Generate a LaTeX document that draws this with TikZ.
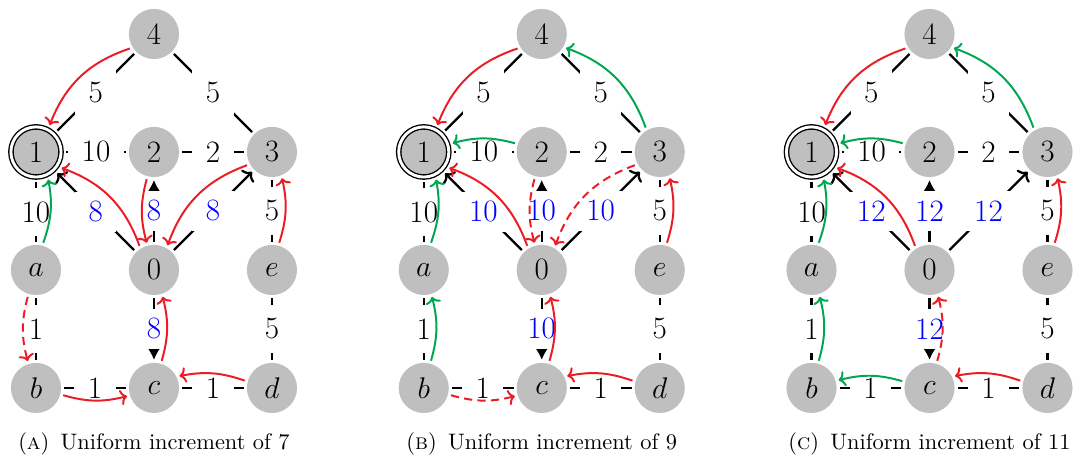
\documentclass[tikz,border=0pt]{standalone}
\usetikzlibrary{arrows.meta}
\definecolor{myred}{RGB}{237,28,36}
\definecolor{mygreen}{RGB}{0,166,81}
\tikzset{
  vtx/.style={circle, fill=gray!50, minimum size=0.85cm, inner sep=0pt, outer sep=1.5pt,
    font=\fontsize{15}{18}\selectfont},
  root/.style={vtx, draw=black, line width=0.65pt, double=white, double distance=1.4pt, outer sep=2.5pt},
  edg/.style={line width=1.1pt, black},
  earr/.style={edg, -{To[length=3.5pt,width=8.5pt]}},
  varr/.style={edg, -{Latex[length=7pt,width=8.5pt]}},
  lbl/.style={fill=white, inner sep=6.5pt, font=\fontsize{15}{18}\selectfont},
  blbl/.style={lbl, text=blue, inner ysep=4.5pt},
  carr/.style={line width=0.95pt, -{To[length=3.2pt,width=7.5pt]}},
  rarr/.style={carr, myred},
  garr/.style={carr, mygreen},
  dsh/.style={dash pattern=on 4pt off 2.5pt},
  captxt/.style={font=\fontsize{10.8}{12}\selectfont},
}
\newcommand\mypanel[4]{%
  \begin{scope}[xshift=#2cm]
    \node[vtx] (#1n4) at (2,6) {4};
    \node[root] (#1n1) at (0,4) {1};
    \node[vtx] (#1n2) at (2,4) {2};
    \node[vtx] (#1n3) at (4,4) {3};
    \node[vtx] (#1a) at (0,2) {$a$};
    \node[vtx] (#1n0) at (2,2) {0};
    \node[vtx] (#1e) at (4,2) {$e$};
    \node[vtx] (#1b) at (0,0) {$b$};
    \node[vtx] (#1c) at (2,0) {$c$};
    \node[vtx] (#1d) at (4,0) {$d$};
    \draw[edg] (#1n4) -- node[lbl]{5} (#1n1);
    \draw[edg] (#1n4) -- node[lbl]{5} (#1n3);
    \draw[edg] (#1n1) -- node[lbl]{10} (#1n2);
    \draw[edg] (#1n2) -- node[lbl]{2} (#1n3);
    \draw[edg] (#1n1) -- node[lbl]{10} (#1a);
    \draw[edg] (#1n3) -- node[lbl]{5} (#1e);
    \draw[edg] (#1a) -- node[lbl]{1} (#1b);
    \draw[edg] (#1e) -- node[lbl]{5} (#1d);
    \draw[edg] (#1b) -- node[lbl]{1} (#1c);
    \draw[edg] (#1c) -- node[lbl]{1} (#1d);
    \draw[earr] (#1n0) -- node[blbl]{#3} (#1n1);
    \draw[varr] (#1n0) -- node[blbl]{#3} (#1n2);
    \draw[earr] (#1n0) -- node[blbl]{#3} (#1n3);
    \draw[varr] (#1n0) -- node[blbl]{#3} (#1c);
    \node[captxt] (#1cap) at (2,-0.95) {#4};
  \end{scope}}
\begin{document}
\begin{tikzpicture}
\useasboundingbox (-0.61,-1.22) rectangle (17.68,6.576);
\mypanel{A}{0}{8}{(\textsc{a})\hspace{0.5em}Uniform increment of 7}
\mypanel{B}{6.573}{10}{(\textsc{b})\hspace{0.5em}Uniform increment of 9}
\mypanel{C}{13.146}{12}{(\textsc{c})\hspace{0.5em}Uniform increment of 11}
% panel A
\draw[rarr] (An4.211) to[bend right=25] (An1.63);
\draw[garr] (Aa.75) to[bend right=15] (An1.294);
\draw[rarr] (An0.121) to[bend right=25] (An1.328);
\draw[rarr] (An2.255) to[bend right=15] (An0.105);
\draw[rarr] (An3.208) to[bend right=25] (An0.61);
\draw[rarr] (Ae.75) to[bend right=15] (An3.291);
\draw[rarr,dsh] (Aa.253) to[bend right=15] (Ab.107);
\draw[rarr] (Ab.345) to[bend right=15] (Ac.197);
\draw[rarr] (Ac.74) to[bend right=15] (An0.288);
\draw[rarr] (Ad.165) to[bend right=15] (Ac.25);
% panel B
\draw[rarr] (Bn4.211) to[bend right=25] (Bn1.63);
\draw[garr] (Bn3.120) to[bend right=25] (Bn4.330);
\draw[garr] (Bn2.162) to[bend right=15] (Bn1.17);
\draw[garr] (Ba.75) to[bend right=15] (Bn1.294);
\draw[rarr] (Bn0.121) to[bend right=25] (Bn1.328);
\draw[rarr,dsh] (Bn2.255) to[bend right=15] (Bn0.105);
\draw[rarr,dsh] (Bn3.208) to[bend right=25] (Bn0.61);
\draw[rarr] (Be.75) to[bend right=15] (Bn3.291);
\draw[garr] (Bb.75) to[bend right=15] (Ba.287);
\draw[rarr,dsh] (Bb.345) to[bend right=15] (Bc.197);
\draw[rarr] (Bc.74) to[bend right=15] (Bn0.288);
\draw[rarr] (Bd.165) to[bend right=15] (Bc.25);
% panel C
\draw[rarr] (Cn4.211) to[bend right=25] (Cn1.63);
\draw[garr] (Cn3.120) to[bend right=25] (Cn4.330);
\draw[garr] (Cn2.162) to[bend right=15] (Cn1.17);
\draw[garr] (Ca.75) to[bend right=15] (Cn1.294);
\draw[rarr] (Cn0.121) to[bend right=25] (Cn1.328);
\draw[rarr] (Ce.75) to[bend right=15] (Cn3.291);
\draw[garr] (Cb.75) to[bend right=15] (Ca.287);
\draw[garr] (Cc.166) to[bend right=15] (Cb.16);
\draw[rarr,dsh] (Cc.74) to[bend right=15] (Cn0.288);
\draw[rarr] (Cd.165) to[bend right=15] (Cc.25);
\end{tikzpicture}
\end{document}
